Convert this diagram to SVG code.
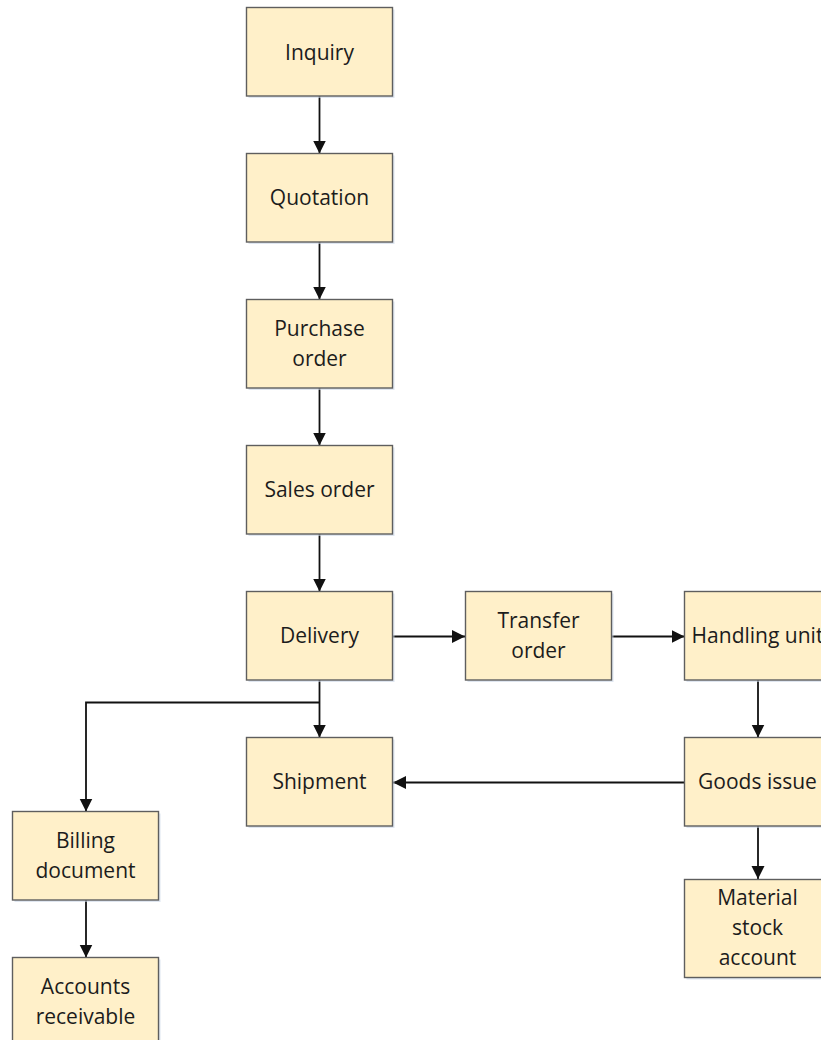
<svg xmlns="http://www.w3.org/2000/svg" width="821" height="1040" viewBox="0 0 821 1040">
  <style>
    .box rect.body { fill: #fff0c9; stroke: #5e5e5e; stroke-width: 1.4; }
    .box rect.shadow { fill: #c9d6e6; opacity: 0.6; }
    .box text { font-family: "Open Sans", "Noto Sans", sans-serif; font-size: 21px; fill: #1c1c1c; text-anchor: middle; }
    .links path { fill: none; stroke: #111; stroke-width: 1.8; }
  </style>
  <defs>
    <marker id="arrow" markerUnits="userSpaceOnUse" markerWidth="14" markerHeight="14" refX="13" refY="6.5" orient="auto">
      <path d="M0,0 L13,6.5 L0,13 z" fill="#111"/>
    </marker>
  </defs>
  <rect width="821" height="1040" fill="#ffffff"/>

  <!-- connectors -->
  <g class="links" marker-end="url(#arrow)">
    <path d="M319.5,96 V153.5" marker-end="url(#arrow)"/>
    <path d="M319.5,242 V299.5" marker-end="url(#arrow)"/>
    <path d="M319.5,388 V445.5" marker-end="url(#arrow)"/>
    <path d="M319.5,534 V591.5" marker-end="url(#arrow)"/>
    <path d="M393,636.5 H465" marker-end="url(#arrow)"/>
    <path d="M612,636.5 H684.5" marker-end="url(#arrow)"/>
    <path d="M319.5,680 V737.5" marker-end="url(#arrow)"/>
    <path d="M319.5,702.5 H86 V811.5" marker-end="url(#arrow)"/>
    <path d="M758,680 V737.5" marker-end="url(#arrow)"/>
    <path d="M685,782.5 H393" marker-end="url(#arrow)"/>
    <path d="M758,826 V879" marker-end="url(#arrow)"/>
    <path d="M86,900 V957.5" marker-end="url(#arrow)"/>
  </g>

  <!-- nodes -->
  <g id="inquiry" class="box">
    <rect class="shadow" x="248.5" y="9.5" width="146" height="88.5"/>
    <rect class="body" x="246.5" y="7.5" width="146" height="88.5"/>
    <text x="319.5" y="60">Inquiry</text>
  </g>
  <g id="quotation" class="box">
    <rect class="shadow" x="248.5" y="155.5" width="146" height="88.5"/>
    <rect class="body" x="246.5" y="153.5" width="146" height="88.5"/>
    <text x="319.5" y="205">Quotation</text>
  </g>
  <g id="purchase-order" class="box">
    <rect class="shadow" x="248.5" y="301.5" width="146" height="88.5"/>
    <rect class="body" x="246.5" y="299.5" width="146" height="88.5"/>
    <text x="319.5" y="336">Purchase</text>
    <text x="319.5" y="366">order</text>
  </g>
  <g id="sales-order" class="box">
    <rect class="shadow" x="248.5" y="447.5" width="146" height="88.5"/>
    <rect class="body" x="246.5" y="445.5" width="146" height="88.5"/>
    <text x="319.5" y="497">Sales order</text>
  </g>
  <g id="delivery" class="box">
    <rect class="shadow" x="248.5" y="593.5" width="146" height="88.5"/>
    <rect class="body" x="246.5" y="591.5" width="146" height="88.5"/>
    <text x="319.5" y="643">Delivery</text>
  </g>
  <g id="transfer-order" class="box">
    <rect class="shadow" x="467.5" y="593.5" width="146" height="88.5"/>
    <rect class="body" x="465.5" y="591.5" width="146" height="88.5"/>
    <text x="538.5" y="628">Transfer</text>
    <text x="538.5" y="658">order</text>
  </g>
  <g id="handling-unit" class="box">
    <rect class="shadow" x="686.5" y="593.5" width="146" height="88.5"/>
    <rect class="body" x="684.5" y="591.5" width="146" height="88.5"/>
    <text x="757.5" y="643">Handling unit</text>
  </g>
  <g id="shipment" class="box">
    <rect class="shadow" x="248.5" y="739.5" width="146" height="88.5"/>
    <rect class="body" x="246.5" y="737.5" width="146" height="88.5"/>
    <text x="319.5" y="789">Shipment</text>
  </g>
  <g id="goods-issue" class="box">
    <rect class="shadow" x="686.5" y="739.5" width="146" height="88.5"/>
    <rect class="body" x="684.5" y="737.5" width="146" height="88.5"/>
    <text x="757.5" y="789">Goods issue</text>
  </g>
  <g id="material-stock-account" class="box">
    <rect class="shadow" x="686.5" y="881.5" width="146" height="98"/>
    <rect class="body" x="684.5" y="879.5" width="146" height="98"/>
    <text x="757.5" y="905">Material</text>
    <text x="757.5" y="935">stock</text>
    <text x="757.5" y="965">account</text>
  </g>
  <g id="billing-document" class="box">
    <rect class="shadow" x="14.5" y="813.5" width="146" height="88.5"/>
    <rect class="body" x="12.5" y="811.5" width="146" height="88.5"/>
    <text x="85.5" y="848">Billing</text>
    <text x="85.5" y="878">document</text>
  </g>
  <g id="accounts-receivable" class="box">
    <rect class="shadow" x="14.5" y="959.5" width="146" height="88.5"/>
    <rect class="body" x="12.5" y="957.5" width="146" height="88.5"/>
    <text x="85.5" y="994">Accounts</text>
    <text x="85.5" y="1024">receivable</text>
  </g>
</svg>
